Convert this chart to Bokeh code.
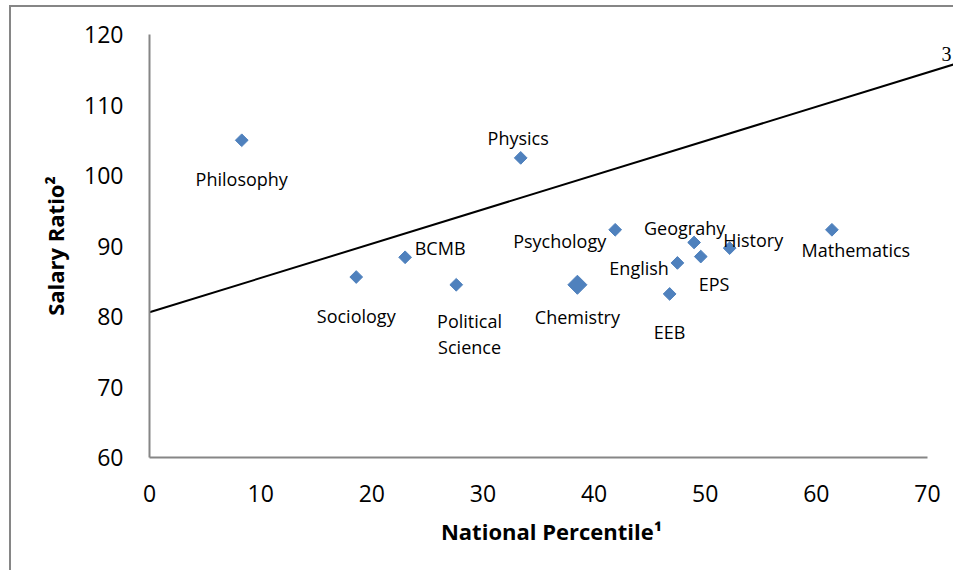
import math
from bokeh.plotting import figure
from bokeh.models import Range1d, FixedTicker, ColumnDataSource, Label
from bokeh.core.properties import value
from bokeh.embed import file_html
from bokeh.resources import INLINE

# ---- data ----
departments = ["Philosophy", "Physics", "Sociology", "BCMB", "Political\nScience",
               "Chemistry", "Psychology", "Geograhy", "History", "English",
               "EPS", "EEB", "Mathematics"]
national_percentile = [8.3, 33.4, 18.6, 23.0, 27.6, 38.5, 41.9, 49.0, 52.2, 47.5, 49.6, 46.8, 61.4]
salary_ratio = [105.0, 102.5, 85.6, 88.4, 84.5, 84.5, 92.3, 90.5, 89.7, 87.6, 88.5, 83.2, 92.3]

trend_x = [0.0, 73.06]
trend_y = [80.6, 116.1]

x_ticks = [0, 10, 20, 30, 40, 50, 60, 70]
y_ticks = [60, 70, 80, 90, 100, 110, 120]

x_title = "National Percentile\u00b9"
y_title = "Salary Ratio\u00b2"
note_mark = "3"

# label placement (pixel offsets from each point to label centre / baseline)
label_dx = [0, -2.5, 0, 35, 13.3, 0, -55.5, -9.5, 23.5, -38.3, 13.3, 0, 24]
label_dy = [39, -20, 39.3, -9.4, 36.7, 32, 11.7, -14.6, -7.7, 4.6, 27.7, 38.4, 20]
LINE_GAP = 26

BLUE = "#4F81BD"
AXIS_GRAY = "#868686"

p = figure(width=953, height=570, output_backend="svg", toolbar_location=None,
           x_range=Range1d(0, 72.34), y_range=Range1d(60, 120),
           min_border_left=149, min_border_right=0, min_border_top=34,
           min_border_bottom=113)
p.background_fill_color = "white"
p.border_fill_color = None
p.outline_line_color = None
p.grid.visible = False
# outer chart-area border (left and top edges visible in the reference)
p.styles = {
    "background-color": "white",
    "background-image": "linear-gradient(#868686, #868686), linear-gradient(#868686, #868686)",
    "background-size": "2px 100%, 100% 2px",
    "background-position": "9px 5px, 9px 5px",
    "background-repeat": "no-repeat",
}

for ax in (p.xaxis[0], p.yaxis[0]):
    ax.axis_line_color = AXIS_GRAY
    ax.axis_line_width = 2
    ax.major_tick_line_color = None
    ax.minor_tick_line_color = None
    ax.major_tick_out = 0
    ax.major_tick_in = 0
    ax.major_label_text_font = "Open Sans"
    ax.major_label_text_font_size = "23px"
    ax.major_label_text_color = "black"
    ax.axis_label_text_font = "Open Sans"
    ax.axis_label_text_font_style = "bold"
    ax.axis_label_text_font_size = "22px"
    ax.axis_label_text_color = "black"

p.xaxis.ticker = FixedTicker(ticks=x_ticks)
p.yaxis.ticker = FixedTicker(ticks=y_ticks)
p.xaxis.bounds = (0, 70)
p.xaxis.major_label_standoff = 27
p.yaxis.major_label_standoff = 26
p.xaxis.axis_label = x_title
p.yaxis.axis_label = y_title
p.xaxis.axis_label_standoff = 11
p.yaxis.axis_label_standoff = 11

# trend line
p.line(trend_x, trend_y, line_color="black", line_width=2)

# points
main_idx = [i for i, d in enumerate(departments) if d != "Chemistry"]
big_idx = [i for i, d in enumerate(departments) if d == "Chemistry"]
p.scatter([national_percentile[i] for i in main_idx], [salary_ratio[i] for i in main_idx],
          marker="square", size=9, angle=math.pi / 4, fill_color=BLUE, line_color=BLUE)
p.scatter([national_percentile[i] for i in big_idx], [salary_ratio[i] for i in big_idx],
          marker="square", size=13.5, angle=math.pi / 4, fill_color=BLUE, line_color=BLUE)

# point labels
lx, ly, lt, ldx, ldy = [], [], [], [], []
for i, name in enumerate(departments):
    for k, line in enumerate(name.split("\n")):
        lx.append(national_percentile[i])
        ly.append(salary_ratio[i])
        lt.append(line)
        ldx.append(label_dx[i])
        ldy.append(label_dy[i] + k * LINE_GAP)
src = ColumnDataSource(dict(x=lx, y=ly, text=lt, dx=ldx, dy=ldy))
p.text(x="x", y="y", text="text", x_offset="dx", y_offset="dy", source=src,
       text_font=value("Open Sans"), text_font_size="18px", text_align="center",
       text_baseline="alphabetic", text_color="black")

# trend-line note mark at the top-right
p.add_layout(Label(x=72.34, y=117.3, x_offset=-2, text=note_mark, text_align="right",
                   text_baseline="alphabetic", text_font="Liberation Serif",
                   text_font_size="20px", text_color="black"))

open("out.html", "w").write(file_html(p, INLINE))
